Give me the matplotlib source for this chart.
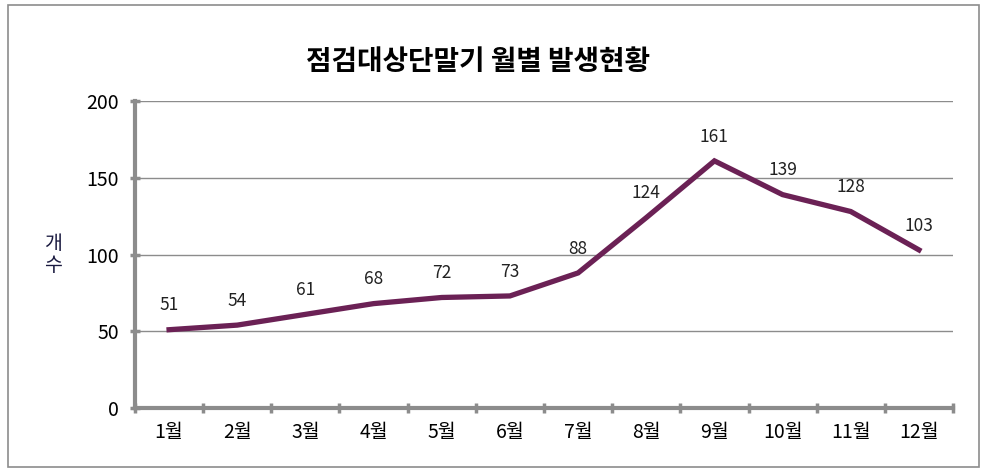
import matplotlib
matplotlib.use("Agg")
import matplotlib.pyplot as plt
from matplotlib.patches import Rectangle

plt.rcParams['font.family'] = ['Noto Sans CJK KR', 'DejaVu Sans']

# 데이터
months = ['1월', '2월', '3월', '4월', '5월', '6월', '7월', '8월', '9월', '10월', '11월', '12월']
counts = [51, 54, 61, 68, 72, 73, 88, 124, 161, 139, 128, 103]
yticks = [0, 50, 100, 150, 200]

fig = plt.figure(figsize=(9.89, 4.74), dpi=100)
ax = fig.add_axes([135/989, 1-408/474, (953-135)/989, (408-101)/474])

# 바깥 테두리
fig.patches.append(Rectangle((8/989, 1-467/474), (979-8)/989, (467-5)/474,
                             transform=fig.transFigure, fill=False,
                             edgecolor='#8c8c8c', linewidth=1.2))

x = list(range(len(months)))
ax.plot(x, counts, color='#6b2155', linewidth=3.8, solid_joinstyle='miter')
for xi, v in zip(x, counts):
    ax.annotate(str(v), (xi, v), xytext=(0, 11), textcoords='offset points',
                ha='center', va='bottom', fontsize=12.5, color='#222222')

ax.set_xlim(-0.5, len(months) - 0.5)
ax.set_ylim(0, 200)
ax.set_yticks(yticks)
ax.set_xticks([i - 0.5 for i in range(len(months) + 1)])
ax.set_xticklabels([])
ax.set_xticks(x, minor=True)
ax.set_xticklabels(months, minor=True, fontsize=14)
ax.tick_params(axis='x', which='minor', length=0, pad=10)
ax.tick_params(axis='x', which='major', length=7, width=2.5, color='#8c8c8c', direction='inout')
ax.tick_params(axis='y', length=7, width=2.5, color='#8c8c8c', direction='inout', labelsize=14, pad=8)

ax.grid(axis='y', color='#8c8c8c', linewidth=1)
ax.set_axisbelow(True)
for s in ['top', 'right']:
    ax.spines[s].set_visible(False)
for s in ['left', 'bottom']:
    ax.spines[s].set_color('#8c8c8c')
    ax.spines[s].set_linewidth(3)

ax.set_ylabel('개\n수', rotation=0, fontsize=14, color='#1a1a40', labelpad=24, va='center',
              linespacing=1.1)

fig.text(478/989, 1-62/474, '점검대상단말기 월별 발생현황', ha='center', va='center',
         fontsize=20, fontweight='bold')

fig.savefig('out.png', dpi=100)
